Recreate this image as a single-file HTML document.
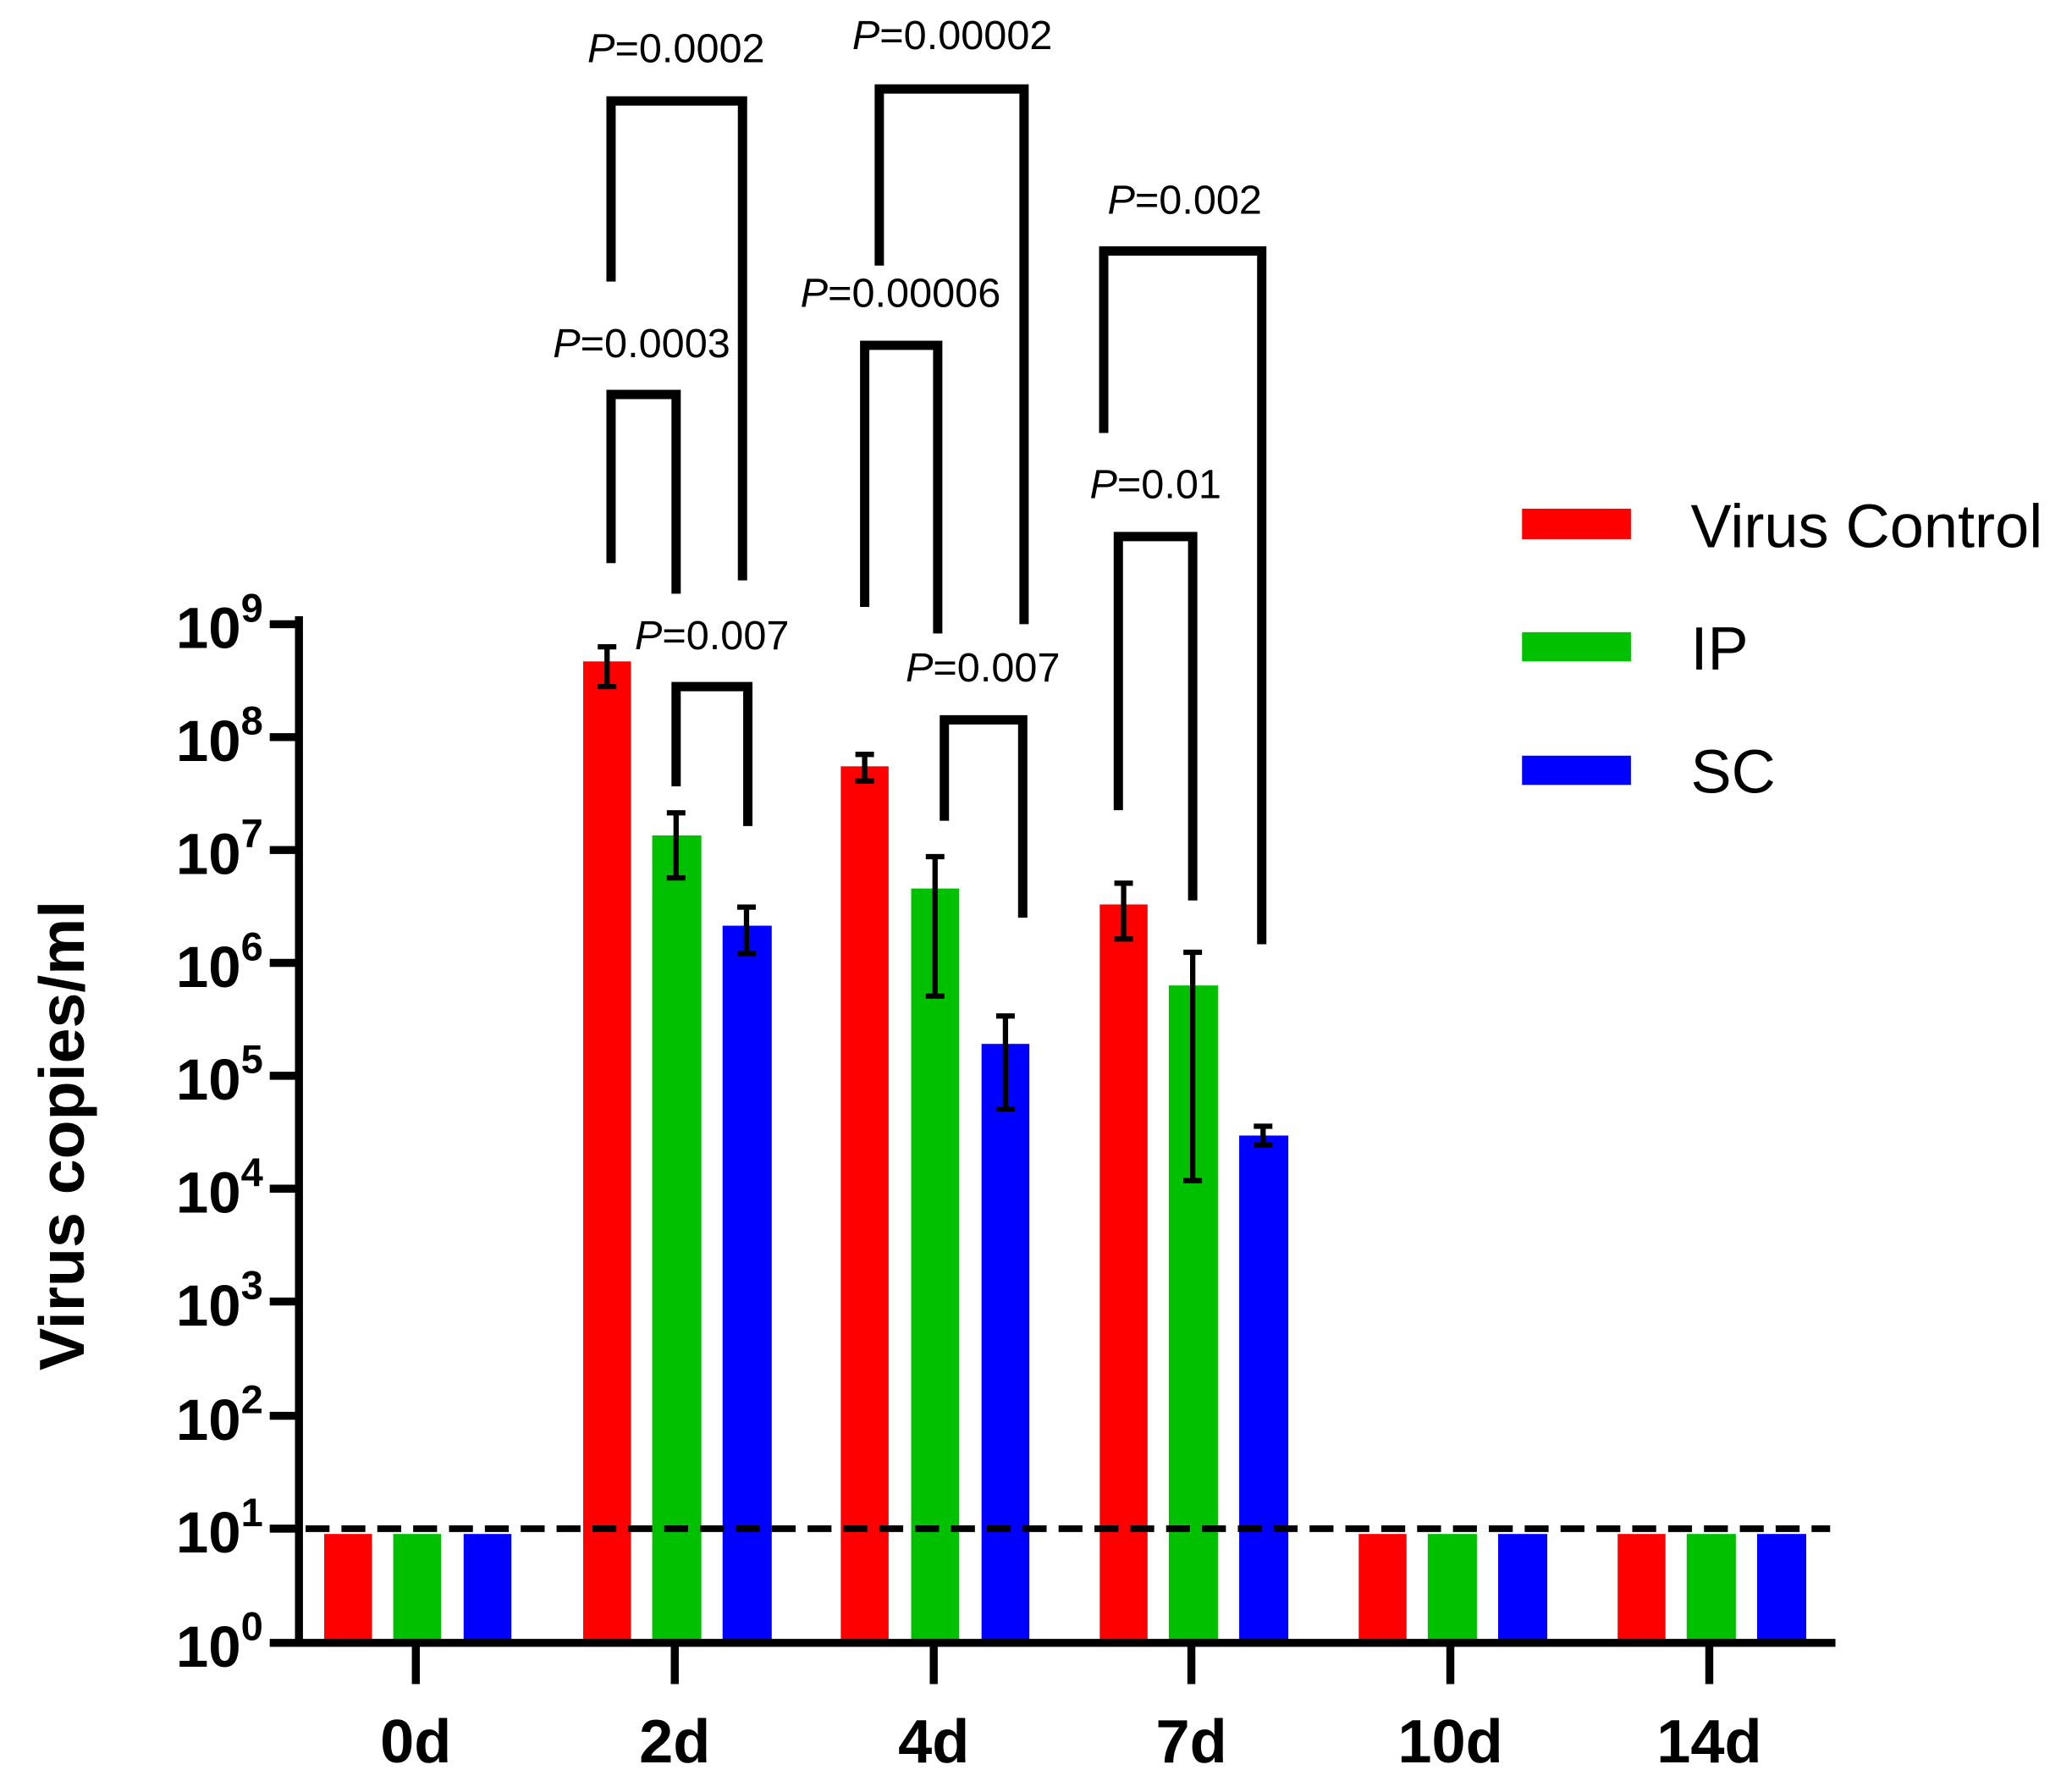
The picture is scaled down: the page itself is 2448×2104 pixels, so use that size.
<!DOCTYPE html>
<html><head><meta charset="utf-8"><style>html,body{margin:0;padding:0;background:#fff}svg{display:block}</style></head>
<body>
<svg width="2448" height="2104" viewBox="0 0 1560 1341" xmlns="http://www.w3.org/2000/svg" font-family="Liberation Sans, Arial, sans-serif">
<rect width="1560" height="1341" fill="#fff"/>
<g>
<rect x="244" y="1155" width="36" height="82" fill="#ff0000"/><rect x="296" y="1155" width="36" height="82" fill="#00c000"/><rect x="349" y="1155" width="36" height="82" fill="#0000ff"/>
<rect x="439" y="498" width="36" height="739" fill="#ff0000"/><rect x="491" y="629" width="37" height="608" fill="#00c000"/><rect x="544" y="697" width="37" height="540" fill="#0000ff"/>
<rect x="633" y="577" width="36" height="660" fill="#ff0000"/><rect x="686" y="669" width="36" height="568" fill="#00c000"/><rect x="739" y="786" width="36" height="451" fill="#0000ff"/>
<rect x="828" y="681" width="36" height="556" fill="#ff0000"/><rect x="880" y="742" width="37" height="495" fill="#00c000"/><rect x="933" y="855" width="37" height="382" fill="#0000ff"/>
<rect x="1023" y="1155" width="36" height="82" fill="#ff0000"/><rect x="1075" y="1155" width="37" height="82" fill="#00c000"/><rect x="1128" y="1155" width="37" height="82" fill="#0000ff"/>
<rect x="1218" y="1155" width="36" height="82" fill="#ff0000"/><rect x="1270" y="1155" width="37" height="82" fill="#00c000"/><rect x="1323" y="1155" width="37" height="82" fill="#0000ff"/>
</g>
<g stroke="#000" stroke-width="4" fill="none">
<path d="M457 487V517M450 487H464M450 517H464"/>
<path d="M509 612V661M502 612H516M502 661H516"/>
<path d="M562 683V718M555 683H569M555 718H569"/>
<path d="M651 568V588M644 568H658M644 588H658"/>
<path d="M704 645V750M697 645H711M697 750H711"/>
<path d="M757 765V835M750 765H764M750 835H764"/>
<path d="M846 665V707M839 665H853M839 707H853"/>
<path d="M898 717V889M891 717H905M891 889H905"/>
<path d="M951 848V862M944 848H958M944 862H958"/>
</g>
<line x1="230" y1="1151" x2="1378" y2="1151" stroke="#000" stroke-width="5" stroke-dasharray="18,9"/>
<g stroke="#000" stroke-width="6" fill="none">
<path d="M225 464V1237H1382"/>
<path d="M203 470H225M203 555H225M203 640H225M203 725H225M203 810H225M203 895H225M203 980H225M203 1066H225M203 1151H225M203 1237H225"/>
<path d="M313 1237V1268M508 1237V1268M703 1237V1268M897 1237V1268M1092 1237V1268M1287 1237V1268"/>
</g>
<g font-weight="bold" font-size="44" text-anchor="end">
<text x="198" y="488">10<tspan font-size="30" dy="-20">9</tspan></text>
<text x="198" y="573">10<tspan font-size="30" dy="-20">8</tspan></text>
<text x="198" y="658">10<tspan font-size="30" dy="-20">7</tspan></text>
<text x="198" y="743">10<tspan font-size="30" dy="-20">6</tspan></text>
<text x="198" y="828">10<tspan font-size="30" dy="-20">5</tspan></text>
<text x="198" y="913">10<tspan font-size="30" dy="-20">4</tspan></text>
<text x="198" y="998">10<tspan font-size="30" dy="-20">3</tspan></text>
<text x="198" y="1084">10<tspan font-size="30" dy="-20">2</tspan></text>
<text x="198" y="1169">10<tspan font-size="30" dy="-20">1</tspan></text>
<text x="198" y="1255">10<tspan font-size="30" dy="-20">0</tspan></text>
</g>
<text transform="translate(63,855) rotate(-90)" text-anchor="middle" font-weight="bold" font-size="48">Virus copies/ml</text>
<g font-weight="bold" font-size="46" text-anchor="middle">
<text x="313" y="1327">0d</text><text x="508" y="1327">2d</text><text x="703" y="1327">4d</text>
<text x="897" y="1327">7d</text><text x="1092" y="1327">10d</text><text x="1287" y="1327">14d</text>
</g>
<g stroke="#000" stroke-width="7" fill="none" stroke-linejoin="miter">
<path d="M460 212V76H559V437"/>
<path d="M460 424V297H509V447"/>
<path d="M509 592V517H563V622"/>
<path d="M662 200V67H771V470"/>
<path d="M651 457V260H706V477"/>
<path d="M711 618V542H770V691"/>
<path d="M831 326V189H950V711"/>
<path d="M842 610V404H898V678"/>
</g>
<g font-size="31" text-anchor="middle">
<text x="509" y="47"><tspan font-style="italic">P</tspan>=0.0002</text>
<text x="483" y="269"><tspan font-style="italic">P</tspan>=0.0003</text>
<text x="536" y="489"><tspan font-style="italic">P</tspan>=0.007</text>
<text x="717" y="37"><tspan font-style="italic">P</tspan>=0.00002</text>
<text x="678" y="231"><tspan font-style="italic">P</tspan>=0.00006</text>
<text x="740" y="513"><tspan font-style="italic">P</tspan>=0.007</text>
<text x="892" y="161"><tspan font-style="italic">P</tspan>=0.002</text>
<text x="870" y="375"><tspan font-style="italic">P</tspan>=0.01</text>
</g>
<rect x="1146" y="383" width="82" height="23" fill="#ff0000"/>
<rect x="1146" y="476" width="82" height="22" fill="#00c000"/>
<rect x="1146" y="569" width="82" height="22" fill="#0000ff"/>
<g font-size="46">
<text x="1273" y="412">Virus Control</text>
<text x="1273" y="504">IP</text>
<text x="1273" y="597">SC</text>
</g>
</svg>
</body></html>
